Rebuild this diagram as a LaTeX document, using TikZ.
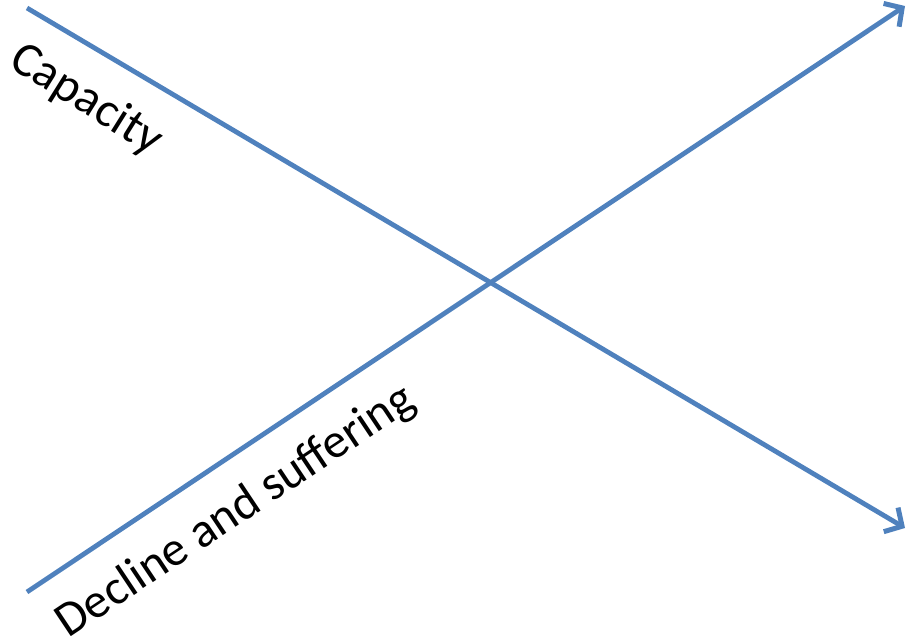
\documentclass[tikz,border=0pt]{standalone}
\usepackage{fontspec}
\setmainfont{Carlito}
\usetikzlibrary{arrows.meta}
\definecolor{lineblue}{HTML}{4F81BD}
\tikzset{
  xline/.style={draw=lineblue, line width=4.8pt, -{Straight Barb[length=13pt,width=28pt,line width=5pt]}},
  lbl/.style={font=\fontsize{49}{58}\selectfont, inner sep=0pt, text=black}
}
\begin{document}
\begin{tikzpicture}[x=1pt,y=-1pt]
\useasboundingbox (0,0) rectangle (910,636);
\coordinate (a1) at (27,8);
\coordinate (a2) at (905,528);
\coordinate (b1) at (27,592);
\coordinate (b2) at (905,6);
\draw[xline] (a1) -- (a2);
\draw[xline] (b1) -- (b2);
\node[lbl, rotate=-32] (cap) at (86,100) {Capacity};
\node[lbl, rotate=33.7] (dec) at (236,512) {Decline and suffering};
\end{tikzpicture}
\end{document}
